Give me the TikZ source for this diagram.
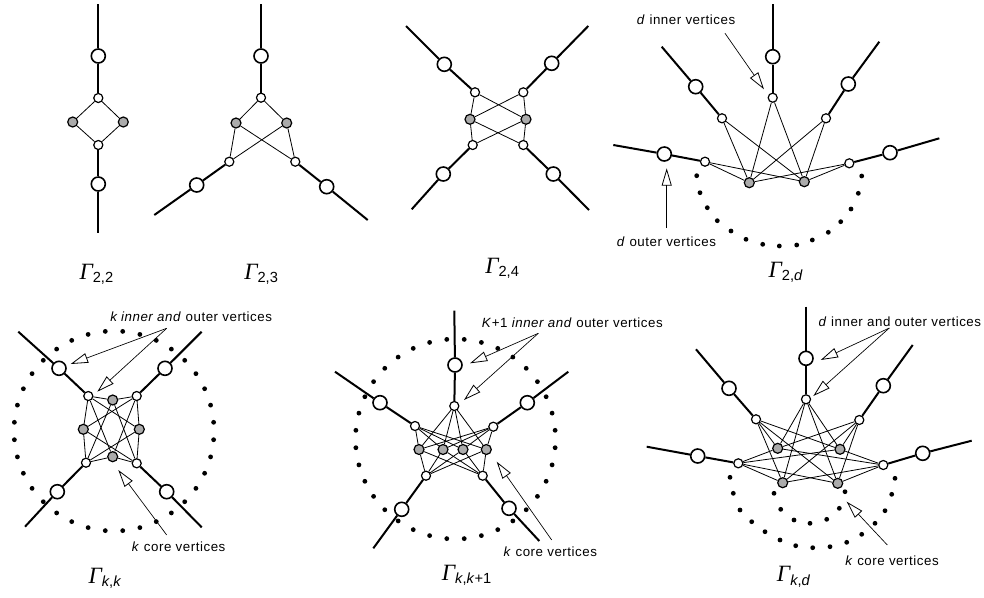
\documentclass[tikz,border=0pt]{standalone}
\usepackage{fontspec}
\newfontfamily\lab[LetterSpace=4]{Liberation Sans}
\newfontfamily\subf{Liberation Sans}
\newfontfamily\gfont{Liberation Serif}
\usetikzlibrary{arrows.meta,backgrounds}
\newcommand{\Gam}[1]{{\gfont\itshape\fontsize{17.5}{17.5}\selectfont Γ}\raisebox{-2.5pt}{\subf\fontsize{11}{11}\selectfont #1}}
\begin{document}
\begin{tikzpicture}[x=0.75pt,y=-0.75pt,
 big/.style={circle,draw,line width=1.2pt,fill=white,minimum size=10.5pt,inner sep=0},
 sml/.style={circle,draw,line width=0.9pt,fill=white,minimum size=6.8pt,inner sep=0},
 core/.style={circle,draw,line width=0.9pt,fill=black!33,minimum size=7.5pt,inner sep=0},
 dotn/.style={circle,fill=black,minimum size=3.6pt,inner sep=0},
 thk/.style={line width=1.5pt},
 thn/.style={line width=0.6pt},
 callout/.style={line width=0.5pt,-{Triangle[open,length=13pt,width=7.5pt,line width=0.6pt]}},
 lbl/.style={font=\lab\fontsize{10}{12}\selectfont,inner sep=0,anchor=base west},
 gam/.style={inner sep=0,anchor=base west}]
\useasboundingbox (0,0) rectangle (984,597);

% ---------- Gamma 2,2 ----------
\coordinate (a-e1) at (98.3,4);
\node[big] (a-B1) at (98.3,56) {};
\node[sml] (a-s1) at (98.3,98) {};
\node[core] (a-g1) at (72.7,122) {};
\node[core] (a-g2) at (123.3,122) {};
\node[sml] (a-s2) at (98.3,145) {};
\node[big] (a-B2) at (98.3,184) {};
\coordinate (a-e2) at (98.3,233);
\node[gam] (a-lab) at (79.3,279) {\Gam{2,2}};

% ---------- Gamma 2,3 ----------
\coordinate (b-e1) at (261,4);
\node[big] (b-B1) at (261,56) {};
\node[sml] (b-s1) at (261,97.7) {};
\node[core] (b-g1) at (236,123) {};
\node[core] (b-g2) at (286.7,123) {};
\node[sml] (b-s2) at (229.3,161.7) {};
\node[sml] (b-s3) at (295.3,161.7) {};
\node[big] (b-B2) at (196.7,185) {};
\node[big] (b-B3) at (326.7,186.7) {};
\coordinate (b-e2) at (154.3,215);
\coordinate (b-e3) at (367.7,220);
\node[gam] (b-lab) at (244,279) {\Gam{2,3}};

% ---------- Gamma 2,4 ----------
\coordinate (c-e1) at (406,26);
\node[big] (c-B1) at (444.3,64.3) {};
\node[sml] (c-s1) at (475,92.3) {};
\coordinate (c-e2) at (588.3,26);
\node[big] (c-B2) at (551.7,63.3) {};
\node[sml] (c-s2) at (523.3,92.3) {};
\node[core] (c-g1) at (470,119.3) {};
\node[core] (c-g2) at (526,119.3) {};
\node[sml] (c-s3) at (472.7,145) {};
\node[big] (c-B3) at (443.3,174) {};
\coordinate (c-e3) at (411.7,209.3);
\node[sml] (c-s4) at (523.3,145) {};
\node[big] (c-B4) at (553.3,174) {};
\coordinate (c-e4) at (589,210);
\node[gam] (c-lab) at (485,273) {\Gam{2,4}};

% ---------- Gamma 2,d ----------
\coordinate (d-e1) at (772.7,4);
\node[big] (d-B1) at (772.7,56.7) {};
\node[sml] (d-s1) at (772.7,97.7) {};
\coordinate (d-e2) at (661.7,46.7);
\node[big] (d-B2) at (695.7,86.7) {};
\node[sml] (d-s2) at (722,118.3) {};
\coordinate (d-e3) at (879.3,41.7);
\node[big] (d-B3) at (848.3,84) {};
\node[sml] (d-s3) at (826,118.3) {};
\coordinate (d-e4) at (613.3,145);
\node[big] (d-B4) at (664.3,154) {};
\node[sml] (d-s4) at (705,161.7) {};
\coordinate (d-e5) at (939.3,138.3);
\node[big] (d-B5) at (890,152.7) {};
\node[sml] (d-s5) at (849.3,163.3) {};
\node[core] (d-g1) at (749.3,182.7) {};
\node[core] (d-g2) at (804.3,181.7) {};
\foreach \p [count=\n] in {(696.7,175.7),(700,192.7),(707.3,207.7),(717.3,220.7),(731,231),(746,239.3),(762.7,244.3),(779.3,246),(796.7,245),(812.3,240),(828.3,232.3),(840.7,221.7),(851,209),(858.3,193.3),(861.7,176)}
  \node[dotn] (d-dot\n) at \p {};
\node[lbl] (d-t1) at (636.7,24.3) {\textit{d} inner vertices};
\node[lbl] (d-t2) at (616.7,246) {\textit{d} outer vertices};
\coordinate (d-c1s) at (725,33.3);
\coordinate (d-c1t) at (764,89.3);
\coordinate (d-c2s) at (666.7,228);
\coordinate (d-c2t) at (666.7,168.3);
\draw[callout] (d-c1s) -- (d-c1t);
\draw[callout] (d-c2s) -- (d-c2t);
\node[gam] (d-lab) at (768.3,277) {\Gam{2,\textit{d}}};

% ---------- Gamma k,k ----------
\coordinate (e-e1) at (18.3,331.7);
\node[big] (e-B1) at (59,368.3) {};
\node[sml] (e-s1) at (88.3,396) {};
\coordinate (e-e2) at (201.7,331.7);
\node[big] (e-B2) at (165,368.3) {};
\node[sml] (e-s2) at (136.7,396) {};
\node[sml] (e-s3) at (86,462.7) {};
\node[big] (e-B3) at (57.3,491.7) {};
\coordinate (e-e3) at (25,526.7);
\node[sml] (e-s4) at (136.7,463.3) {};
\node[big] (e-B4) at (166.7,491.7) {};
\coordinate (e-e4) at (201.7,527.3);
\node[core] (e-g1) at (112.7,400) {};
\node[core] (e-g2) at (83.3,429.3) {};
\node[core] (e-g3) at (139.3,429.3) {};
\node[core] (e-g4) at (112.7,456.7) {};
\foreach \i in {0,...,35}
  \path (114,431) ++(5+10*\i:100) node[dotn] (e-dot\i) {};
\node[lbl] (e-t1) at (110,321.5) {\textit{k inner and} outer vertices};
\node[lbl] (e-t2) at (131.7,551) {\textit{k} core vertices};
\coordinate (e-cs) at (166.7,328.3);
\coordinate (e-ct1) at (70.7,364);
\coordinate (e-ct2) at (97.3,391.7);
\coordinate (e-c3s) at (166.7,535);
\coordinate (e-c3t) at (118.3,470);
\draw[callout] (e-cs) -- (e-ct1);
\draw[callout] (e-cs) -- (e-ct2);
\draw[callout] (e-c3s) -- (e-c3t);
\node[gam] (e-lab) at (88.3,583.3) {\Gam{\textit{k},\textit{k}}};

% ---------- Gamma k,k+1 ----------
\coordinate (f-e1) at (454.3,310.7);
\node[big] (f-B1) at (455,365) {};
\node[sml] (f-s1) at (454.3,406) {};
\coordinate (f-e2) at (335,371.7);
\node[big] (f-B2) at (380,402.7) {};
\node[sml] (f-s2) at (415,426) {};
\coordinate (f-e3) at (568.3,371.7);
\node[big] (f-B3) at (527.3,402.7) {};
\node[sml] (f-s3) at (493.3,426.7) {};
\node[sml] (f-s4) at (426,475.7) {};
\node[big] (f-B4) at (401.7,509.3) {};
\coordinate (f-e4) at (373.3,548.3);
\node[sml] (f-s5) at (482.7,475.7) {};
\node[big] (f-B5) at (509,508.3) {};
\coordinate (f-e5) at (539.3,541);
\node[core] (f-g1) at (419,449.5) {};
\node[core] (f-g2) at (443,449.5) {};
\node[core] (f-g3) at (463,449.5) {};
\node[core] (f-g4) at (486.3,449.5) {};
\foreach \i in {0,...,35}
  \path (455.5,439) ++(5+10*\i:100) node[dotn] (f-dot\i) {};
\node[lbl] (f-t1) at (481.7,327) {\textit{K}+1 \textit{inner and} outer vertices};
\node[lbl] (f-t2) at (503.3,556) {\textit{k} core vertices};
\coordinate (f-cs) at (538.3,333.3);
\coordinate (f-ct1) at (470,363.3);
\coordinate (f-ct2) at (464,400);
\coordinate (f-c3s) at (551.7,540);
\coordinate (f-c3t) at (496.7,461.7);
\draw[callout] (f-cs) -- (f-ct1);
\draw[callout] (f-cs) -- (f-ct2);
\draw[callout] (f-c3s) -- (f-c3t);
\node[gam] (f-lab) at (441.7,580) {\Gam{\textit{k},\textit{k}+1}};

% ---------- Gamma k,d ----------
\coordinate (g-e1) at (806,306.7);
\node[big] (g-B1) at (806,358.3) {};
\node[sml] (g-s1) at (806,399.3) {};
\coordinate (g-e2) at (696,349.3);
\node[big] (g-B2) at (729,388.3) {};
\node[sml] (g-s2) at (756,419.3) {};
\coordinate (g-e3) at (912.7,345);
\node[big] (g-B3) at (883.3,385.7) {};
\node[sml] (g-s3) at (859.3,420) {};
\coordinate (g-e4) at (646.7,446.7);
\node[big] (g-B4) at (697.7,456) {};
\node[sml] (g-s4) at (738.3,463.3) {};
\coordinate (g-e5) at (971.7,440.7);
\node[big] (g-B5) at (922.7,453.3) {};
\node[sml] (g-s5) at (883.3,465) {};
\node[core] (g-g1) at (777.7,448.3) {};
\node[core] (g-g2) at (840,449.3) {};
\node[core] (g-g3) at (782.7,482.7) {};
\node[core] (g-g4) at (837.7,483.3) {};
\foreach \p [count=\n] in {(730,477.3),(733.3,493.3),(740,510),(751.7,521.7),(765,531.7),(780,540),(795.7,545.7),(812.7,547.7),(830,546.7),(846.7,542.3),(861.7,534.3),(875,523.3),(885,510.7),(891.7,494.3),(895,478.3),(774,493.3),(780.7,509.3),(794,520),(810,523.3),(826.7,519.3),(839.3,508.3),(845,491.7)}
  \node[dotn] (g-dot\n) at \p {};
\node[lbl] (g-t1) at (818.3,326) {\textit{d} inner and outer vertices};
\node[lbl] (g-t2) at (845,565) {\textit{k} core vertices};
\coordinate (g-cs) at (889.3,328);
\coordinate (g-ct1) at (820.7,360);
\coordinate (g-ct2) at (813.3,396);
\coordinate (g-c3s) at (887.3,545);
\coordinate (g-c3t) at (846.7,501.7);
\draw[callout] (g-cs) -- (g-ct1);
\draw[callout] (g-cs) -- (g-ct2);
\draw[callout] (g-c3s) -- (g-c3t);
\node[gam] (g-lab) at (776.7,581.7) {\Gam{\textit{k},\textit{d}}};

% ---------- edges ----------
\begin{scope}[on background layer]
 % 2,2
 \draw[thk] (a-e1) -- (a-B1) -- (a-s1);
 \draw[thk] (a-s2) -- (a-B2) -- (a-e2);
 \draw[thn] (a-s1) -- (a-g1) -- (a-s2) -- (a-g2) -- (a-s1);
 % 2,3
 \draw[thk] (b-e1) -- (b-B1) -- (b-s1);
 \draw[thk] (b-s2) -- (b-B2) -- (b-e2);
 \draw[thk] (b-s3) -- (b-B3) -- (b-e3);
 \foreach \g in {1,2} {\draw[thn] (b-s1) -- (b-g\g);
   \foreach \s in {2,3} \draw[thn] (b-g\g) -- (b-s\s);}
 % 2,4
 \foreach \s in {1,...,4} {\draw[thk] (c-e\s) -- (c-B\s) -- (c-s\s);
   \foreach \g in {1,2} \draw[thn] (c-s\s) -- (c-g\g);}
 % 2,d
 \foreach \s in {1,...,5} {\draw[thk] (d-e\s) -- (d-B\s) -- (d-s\s);
   \foreach \g in {1,2} \draw[thn] (d-s\s) -- (d-g\g);}
 % k,k
 \foreach \s in {1,...,4} {\draw[thk] (e-e\s) -- (e-B\s) -- (e-s\s);
   \foreach \g in {1,...,4} \draw[thn] (e-s\s) -- (e-g\g);}
 % k,k+1
 \foreach \s in {1,...,5} {\draw[thk] (f-e\s) -- (f-B\s) -- (f-s\s);
   \foreach \g in {1,...,4} \draw[thn] (f-s\s) -- (f-g\g);}
 % k,d
 \foreach \s in {1,...,5} {\draw[thk] (g-e\s) -- (g-B\s) -- (g-s\s);
   \foreach \g in {1,...,4} \draw[thn] (g-s\s) -- (g-g\g);}
\end{scope}
\end{tikzpicture}
\end{document}
